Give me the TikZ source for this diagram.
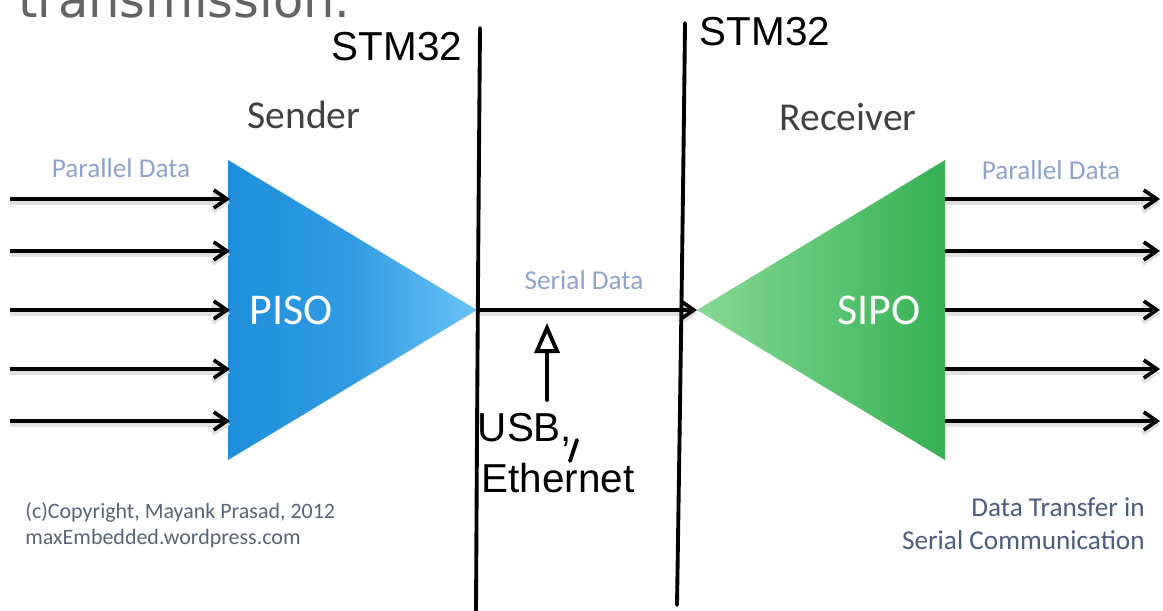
\documentclass[tikz,border=0pt]{standalone}
\usepackage{fontspec}
\setmainfont{Carlito}
\newfontfamily\titlefont{DejaVu Sans}
\newfontfamily\penfont{Liberation Sans}
\usepackage{xcolor}
\usepackage{tikz}
\usetikzlibrary{arrows.meta,positioning}
\definecolor{pisodark}{HTML}{1E8FDD}
\definecolor{pisolight}{HTML}{6AC2F4}
\definecolor{sipolight}{HTML}{86D995}
\definecolor{sipodark}{HTML}{36B154}
\definecolor{labelblue}{HTML}{8EA2CC}
\definecolor{headgray}{HTML}{404040}
\definecolor{notegray}{HTML}{5A6378}
\definecolor{captionblue}{HTML}{4D5C7E}
\definecolor{titlegray}{HTML}{636363}
\tikzset{
  heading/.style={text=headgray, inner sep=0pt, font=\fontsize{22.5}{27}\selectfont},
  buslabel/.style={text=labelblue, inner sep=0pt, font=\fontsize{15.5}{18}\selectfont},
  blocklabel/.style={text=white, inner sep=0pt, font=\fontsize{25}{30}\selectfont},
  note/.style={text=notegray, align=left, inner sep=0pt, font=\fontsize{12.5}{15}\selectfont},
  caption/.style={text=captionblue, align=right, inner sep=0pt, font=\fontsize{15.5}{19}\selectfont},
  bus/.style={-{Straight Barb[length=2.6mm,width=3.6mm]}, line width=2.1pt, draw=black,
    preaction={draw=black!12, line width=3pt, transform canvas={yshift=-2pt}}},
  ink/.style={line width=2.2pt, line cap=round, line join=round, draw=black},
  inkarrow/.style={ink, -{Triangle[open,length=6mm,width=5mm]}},
  inktext/.style={inner sep=0pt, font=\penfont\fontsize{23}{26}\selectfont},
  pisofill/.style={left color=pisodark, right color=pisolight, middle color=pisodark!75!pisolight},
  sipofill/.style={left color=sipolight, right color=sipodark}
}

\begin{document}
\begin{tikzpicture}
  \useasboundingbox[fill=white] (0,0) rectangle (23.26,12.2);
  \clip (0,0) rectangle (23.26,12.2);

  \node[anchor=base west, inner sep=0pt, text=titlegray, font=\titlefont\fontsize{28.2}{32}\selectfont] (title) at (0.36,11.84) {transmission.};

  \shade[pisofill] (4.56,9) -- (9.54,6) -- (4.56,3) -- cycle;
  \shade[sipofill] (18.9,9) -- (13.94,6) -- (18.9,3) -- cycle;
  \coordinate (piso tip) at (9.54,6);
  \coordinate (sipo tip) at (13.94,6);

  \node[heading] (sender) at (6.08,9.9) {Sender};
  \node[heading] (receiver) at (16.96,9.86) {Receiver};
  \node[blocklabel] (piso) at (5.82,6) {PISO};
  \node[blocklabel] (sipo) at (17.58,6) {SIPO};
  \node[buslabel] (parin) at (2.42,8.84) {Parallel Data};
  \node[buslabel] (parout) at (21.02,8.8) {Parallel Data};
  \node[buslabel] (serial) at (11.68,6.6) {Serial Data};

  \foreach \y [count=\i] in {8.22,7.18,6,4.82,3.78} {
    \coordinate (in\i) at (0.2,\y);
    \coordinate (piso in\i) at (4.6,\y);
    \coordinate (sipo out\i) at (18.9,\y);
    \coordinate (out\i) at (23.2,\y);
    \draw[bus] (in\i) -- (piso in\i);
    \draw[bus] (sipo out\i) -- (out\i);
  }
  \draw[bus] (piso tip) -- (sipo tip);

  \node[note, anchor=west] (copy) at (0.5,1.7) {(c)Copyright, Mayank Prasad, 2012\\maxEmbedded.wordpress.com};
  \node[caption, anchor=east] (topic) at (22.9,1.73) {Data Transfer in\\Serial Communication};

  % pen marks on top
  \draw[ink] (9.6,11.64) .. controls (9.57,8) and (9.54,4) .. (9.52,-0.1);
  \draw[ink] (13.7,11.74) .. controls (13.66,8) and (13.6,4) .. (13.54,0.1);
  \node[inktext] (stm left) at (7.94,11.26) {STM32};
  \node[inktext] (stm right) at (15.3,11.56) {STM32};
  \node[inktext] (usb) at (10.5,3.6) {USB,};
  \node[inktext] (eth) at (11.16,2.64) {Ethernet};
  \draw[ink] (11.54,3.4) -- (11.4,2.98);
  \coordinate (wire) at (10.94,5.74);
  \coordinate (tail) at (10.94,4.2);
  \draw[inkarrow] (tail) -- (wire);
\end{tikzpicture}
\end{document}
